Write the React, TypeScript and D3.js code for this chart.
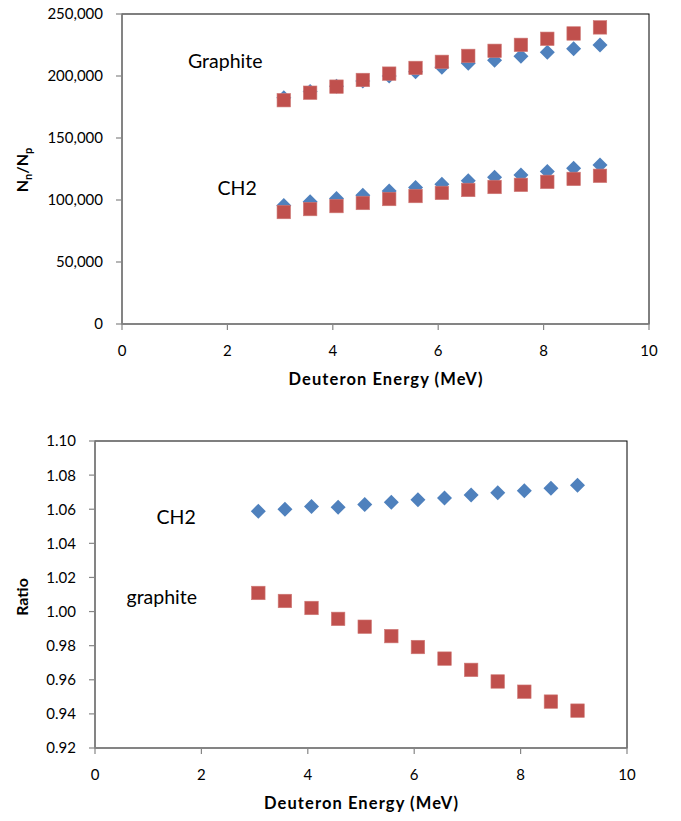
import React from "react";
import * as d3 from "d3";

// ---- Data ----
const energy = [3.07, 3.57, 4.07, 4.57, 5.07, 5.57, 6.07, 6.57, 7.07, 7.57, 8.07, 8.57, 9.07];

// Top chart: Nn/Np
const graphiteBlue = [182500, 187600, 191800, 195900, 200100, 203500, 207000, 210300, 212700, 215900, 219200, 222000, 225000];
const graphiteRed = [180500, 186500, 191400, 196800, 201900, 206500, 211400, 216200, 220300, 225100, 230000, 234300, 239200];
const ch2Blue = [95600, 98500, 101200, 103800, 107200, 110000, 112800, 115500, 118300, 120200, 122900, 125600, 128300];
const ch2Red = [90300, 92700, 95100, 97600, 100800, 103200, 105700, 108100, 110500, 112200, 114600, 117000, 119500];

// Bottom chart: Ratio
const ratioCH2 = [1.0588, 1.0600, 1.0616, 1.0612, 1.0627, 1.0641, 1.0655, 1.0666, 1.0684, 1.0696, 1.0709, 1.0723, 1.0740];
const ratioGraphite = [1.0109, 1.0062, 1.0021, 0.9957, 0.9911, 0.9856, 0.9792, 0.9724, 0.9658, 0.9590, 0.9530, 0.9472, 0.9419];

const xTicks = [0, 2, 4, 6, 8, 10];
const topYTicks = [0, 50000, 100000, 150000, 200000, 250000];
const botYTicks = [0.92, 0.94, 0.96, 0.98, 1.0, 1.02, 1.04, 1.06, 1.08, 1.1];

const BLUE = "#4F81BD";
const RED = "#C0504D";
const AXIS = "#868686";
const FONT = "Lato, 'Open Sans', sans-serif";

const fmtThousands = d3.format(",");
const fmt2 = d3.format(".2f");

function Diamond({ x, y }: { x: number; y: number }) {
  const r = 7.5;
  return <path d={`M${x},${y - r}L${x + r},${y}L${x},${y + r}L${x - r},${y}Z`} fill={BLUE} />;
}
function Square({ x, y }: { x: number; y: number }) {
  const s = 13.5;
  return <rect x={x - s / 2} y={y - s / 2} width={s} height={s} fill={RED} stroke="#cf7a77" strokeWidth={0.6} />;
}

function Panel({
  left, right, top, bottom, yDomain, yTicks, yFmt, blueSets, redSets, yTitle, annotations,
}: any) {
  const x = d3.scaleLinear().domain([0, 10]).range([left, right]);
  const y = d3.scaleLinear().domain(yDomain).range([bottom, top]);
  return (
    <g>
      {/* plot border */}
      <rect x={left} y={top} width={right - left} height={bottom - top} fill="none" stroke="#000" strokeWidth={1} />
      {/* y axis */}
      <line x1={left} x2={left} y1={top} y2={bottom} stroke={AXIS} strokeWidth={1.5} />
      {yTicks.map((t: number) => (
        <g key={t}>
          <line x1={left - 6} x2={left} y1={y(t)} y2={y(t)} stroke={AXIS} strokeWidth={1.2} />
          <text x={left - 19} y={y(t)} dy="0.36em" textAnchor="end" fontSize={15} fontFamily={FONT} fill="#000">
            {yFmt(t)}
          </text>
        </g>
      ))}
      {/* x axis */}
      <line x1={left} x2={right} y1={bottom} y2={bottom} stroke={AXIS} strokeWidth={1.5} />
      {xTicks.map((t) => (
        <g key={t}>
          <line x1={x(t)} x2={x(t)} y1={bottom} y2={bottom + 6} stroke={AXIS} strokeWidth={1.2} />
          <text x={x(t)} y={bottom + 32} textAnchor="middle" fontSize={15} fontFamily={FONT} fill="#000">
            {t}
          </text>
        </g>
      ))}
      <text x={(left + right) / 2} y={bottom + 61} textAnchor="middle" fontSize={16.5} fontWeight="bold" fontFamily={FONT}
        textLength={194} lengthAdjust="spacing" fill="#000">
        Deuteron Energy (MeV)
      </text>
      {yTitle}
      {annotations}
      {blueSets.map((arr: number[], si: number) =>
        arr.map((v, i) => <Diamond key={`b${si}-${i}`} x={x(energy[i])} y={y(v)} />)
      )}
      {redSets.map((arr: number[], si: number) =>
        arr.map((v, i) => <Square key={`r${si}-${i}`} x={x(energy[i])} y={y(v)} />)
      )}
    </g>
  );
}

export default function App() {
  const annStyle = { fontSize: 19.5, fontFamily: FONT, fill: "#000" } as any;
  return (
    <svg width={681} height={821} style={{ position: "absolute", left: 0, top: 0, background: "#fff" }}>
      <rect width={681} height={821} fill="#fff" />
      <Panel
        left={122} right={649} top={14} bottom={324}
        yDomain={[0, 250000]} yTicks={topYTicks} yFmt={fmtThousands}
        blueSets={[graphiteBlue, ch2Blue]} redSets={[graphiteRed, ch2Red]}
        yTitle={
          <text transform="translate(28,170) rotate(-90)" textAnchor="middle" fontSize={16} fontWeight="bold" fontFamily={FONT}>
            N<tspan fontSize={11} dy={4}>n</tspan><tspan dy={-4}>/N</tspan><tspan fontSize={11} dy={4}>p</tspan>
          </text>
        }
        annotations={
          <g>
            <text x={188} y={67.5} {...annStyle}>Graphite</text>
            <text x={217.5} y={195} {...annStyle}>CH2</text>
          </g>
        }
      />
      <Panel
        left={95} right={627} top={441} bottom={748}
        yDomain={[0.92, 1.1]} yTicks={botYTicks} yFmt={fmt2}
        blueSets={[ratioCH2]} redSets={[ratioGraphite]}
        yTitle={
          <text transform="translate(28,597) rotate(-90)" textAnchor="middle" fontSize={16} fontWeight="bold" fontFamily={FONT}>
            Ratio
          </text>
        }
        annotations={
          <g>
            <text x={156.5} y={524} {...annStyle}>CH2</text>
            <text x={126.5} y={604} {...annStyle}>graphite</text>
          </g>
        }
      />
    </svg>
  );
}
